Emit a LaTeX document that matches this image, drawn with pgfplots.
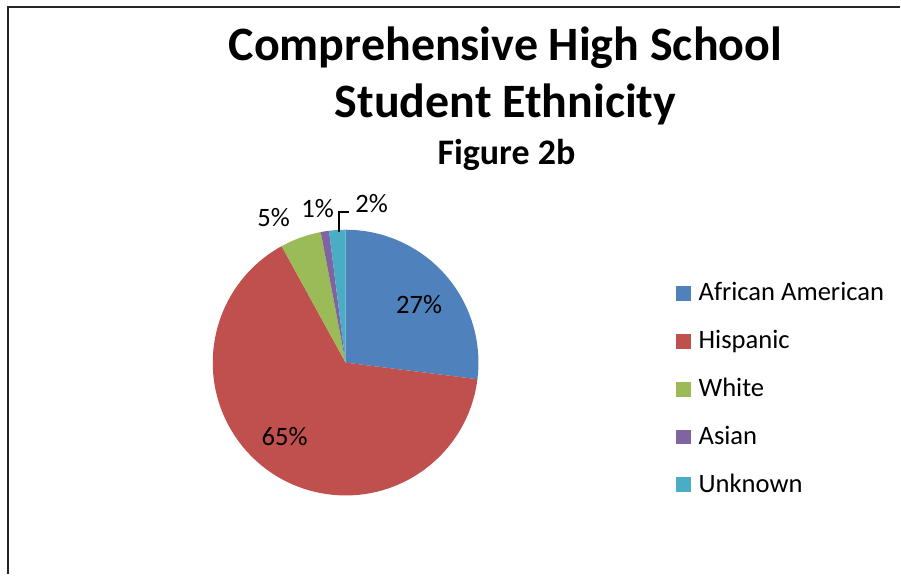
\documentclass[border=0pt]{standalone}
\usepackage{pgfplots}
\usepackage{pgfplotstable}
\pgfplotsset{compat=1.18}
\usepackage{fontspec}
\setmainfont{Carlito}
\definecolor{cAA}{HTML}{4F81BD}
\definecolor{cH}{HTML}{C0504D}
\definecolor{cW}{HTML}{9BBB59}
\definecolor{cA}{HTML}{8064A2}
\definecolor{cU}{HTML}{4BACC6}
\pgfplotstableread[col sep=comma]{
name,value,color,lx,ly
African American,27,cAA,419.5,261
Hispanic,65,cH,285,129
White,5,cW,274,348
Asian,1,cA,318,357
Unknown,2,cU,372,362
}\datatable
\begin{document}
\begin{tikzpicture}
\begin{axis}[x=0.5pt,y=0.5pt,xmin=0,xmax=901,ymin=0,ymax=575,
  hide axis, clip=false, axis line style={draw=none}]
\path (axis cs:0,0) rectangle (axis cs:901,575);
% frame
\draw[line width=1pt, black!85] (axis cs:8,0) -- (axis cs:8,568) -- (axis cs:901,568);
% titles
\node[anchor=base, font=\fontsize{24}{28}\selectfont\bfseries] at (axis cs:506,514) {Comprehensive High School};
\node[anchor=base, font=\fontsize{24}{28}\selectfont\bfseries] at (axis cs:506,457) {Student Ethnicity};
\node[anchor=base, font=\fontsize{18}{22}\selectfont\bfseries] at (axis cs:507,410) {Figure 2b};
% pie slices
\def\cum{0}
\pgfplotsforeachungrouped \i in {0,...,4} {
  \pgfplotstablegetelem{\i}{value}\of\datatable \let\v\pgfplotsretval
  \pgfplotstablegetelem{\i}{color}\of\datatable \let\c\pgfplotsretval
  \pgfplotstablegetelem{\i}{name}\of\datatable \let\n\pgfplotsretval
  \pgfplotstablegetelem{\i}{lx}\of\datatable \let\lx\pgfplotsretval
  \pgfplotstablegetelem{\i}{ly}\of\datatable \let\ly\pgfplotsretval
  \pgfmathsetmacro\a{90-3.6*\cum}
  \pgfmathsetmacro\b{90-3.6*(\cum+\v)}
  \pgfmathtruncatemacro\vi{\v}
  \pgfmathtruncatemacro\by{301+48*\i}
  \pgfmathtruncatemacro\byy{575-\by}
  \pgfmathtruncatemacro\bt{575-\by+15}
  \edef\temp{%
    \noexpand\fill[\c] (axis cs:346,212) -- ++(\a:66.5pt) arc[start angle=\a, end angle=\b, radius=66.5pt] -- cycle;
    \noexpand\node[anchor=base, font=\noexpand\fontsize{13.3}{15}\noexpand\selectfont, inner sep=0pt] at (axis cs:\lx,\ly) {\vi\noexpand\%};
    \noexpand\fill[\c] (axis cs:677,\byy) rectangle (axis cs:692,\bt);
    \noexpand\node[anchor=base west, font=\noexpand\fontsize{13.3}{15}\noexpand\selectfont, inner sep=0pt] at (axis cs:699,\byy) {\n};
  }
  \temp
  \pgfmathsetmacro\cum{\cum+\v}
}
% leader line
\draw[line width=1pt, black] (axis cs:339,343) -- (axis cs:339,363) -- (axis cs:349,363);
\end{axis}
\end{tikzpicture}
\end{document}
